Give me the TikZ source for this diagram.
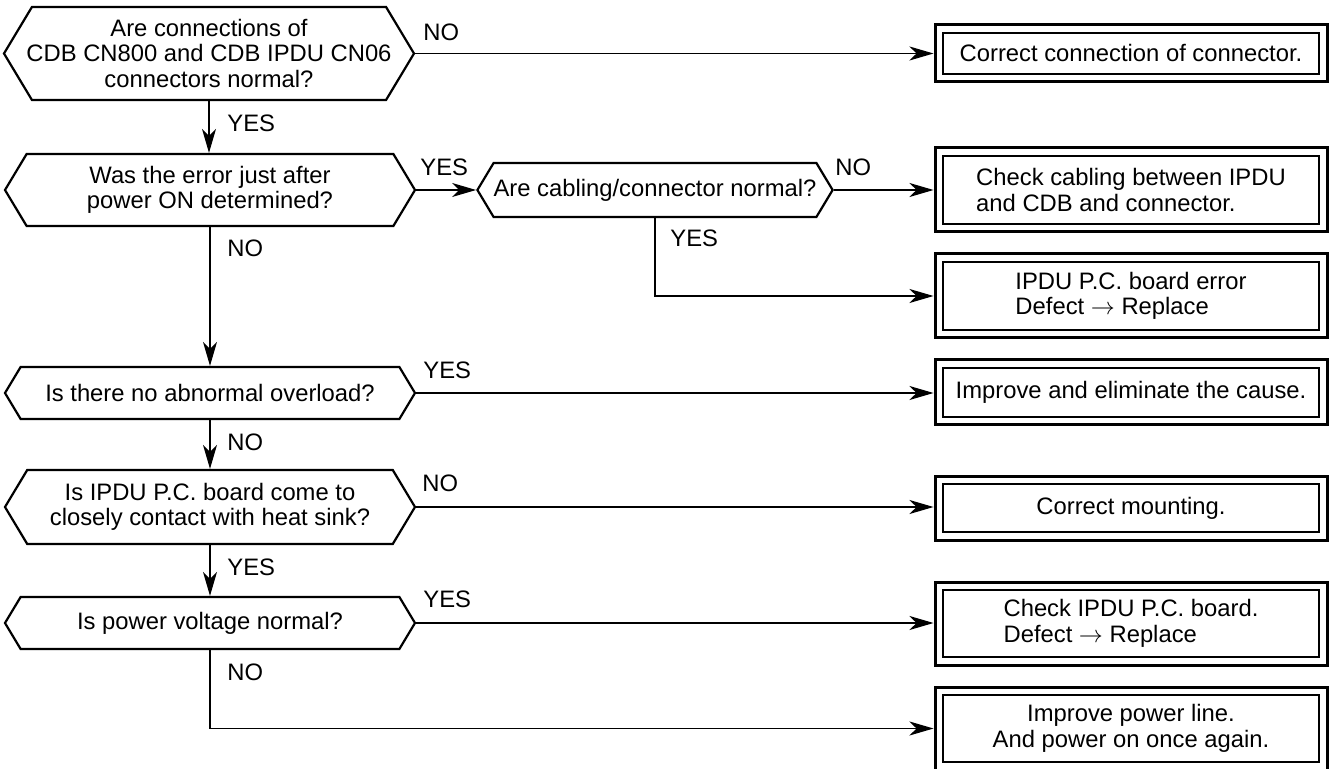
\documentclass[tikz,border=0pt]{standalone}
\usepackage{fontspec}
\setmainfont{Liberation Sans}
\usetikzlibrary{shapes.symbols,arrows.meta}

\tikzset{
	query/.style={draw, line width=1.1pt, shape=signal, signal to=east and west,
		signal pointer angle=118, align=center, inner sep=0pt, minimum width=205pt},
	result/.style={draw, line width=1.5pt, minimum width=196pt, inner sep=0pt,
		path picture={\draw[line width=0.7pt]
			([shift={(4pt,4pt)}]path picture bounding box.south west) rectangle
			([shift={(-4pt,-4pt)}]path picture bounding box.north east);}},
	link/.style={line width=0.7pt, -{Stealth[length=12pt,width=7pt,inset=3.5pt]}},
	answer/.style={anchor=west, inner sep=0pt}
}

\begin{document}
\begin{tikzpicture}[x=0.5pt, y=-0.5pt, font=\fontsize{11.9pt}{12.8pt}\selectfont]
	
	\useasboundingbox (0,0) rectangle (1331,769);
	
	% questions
	\node[query, inner xsep=-8pt, minimum height=46.5pt] (q1) at (209,53.5) {Are connections of\\CDB CN800 and CDB IPDU CN06\\connectors normal?};
	\node[query, minimum height=36pt] (q2) at (210,190) {Was the error just after\\power ON determined?};
	\node[query, minimum width=173pt, minimum height=27pt] (q3) at (655,190) {Are cabling/connector normal?};
	\node[query, minimum height=26pt] (q4) at (210,393) {Is there no abnormal overload?};
	\node[query, minimum height=37pt] (q5) at (210,507) {Is IPDU P.C. board come to\\closely contact with heat sink?};
	\node[query, minimum height=26pt] (q6) at (210,623) {Is power voltage normal?};
	
	% remedies
	\node[result, minimum height=28.5pt] (r1) at (1131,53.5) {Correct connection of connector.};
	\node[result, minimum height=42pt, align=left] (r2) at (1131,190) {Check cabling between IPDU\\and CDB and connector.};
	\node[result, minimum height=42pt, align=left] (r3) at (1131,296) {IPDU P.C. board error\\Defect $\rightarrow$ Replace};
	\node[result, minimum height=32.5pt] (r4) at (1131,392.5) {Improve and eliminate the cause.};
	\node[result, minimum height=32pt] (r5) at (1131,508) {Correct mounting.};
	\node[result, minimum height=41.5pt, align=left] (r6) at (1131,623.5) {Check IPDU P.C. board.\\Defect $\rightarrow$ Replace};
	\node[result, minimum height=41.5pt, align=center] (r7) at (1131,728.5) {Improve power line.\\And power on once again.};
	
	% flow
	\draw[link] (q1.east) -- (q1.east -| r1.west);
	\draw[link] (q1.south) -- (q1.south |- q2.north);
	\draw[link] (q2.east) -- (q3.west);
	\draw[link] (q3.east) -- (r2.west);
	\draw[link] (q3.south) |- (r3.west);
	\draw[link] (q2.south) -- (q4.north);
	\draw[link] (q4.east) -- (q4.east -| r4.west);
	\draw[link] (q4.south) -- (q5.north);
	\draw[link] (q5.east) -- (q5.east -| r5.west);
	\draw[link] (q5.south) -- (q6.north);
	\draw[link] (q6.east) -- (q6.east -| r6.west);
	\draw[link] (q6.south) |- (r7.west);
	
	% answers
	\node[answer] (a1) at (423,32) {NO};
	\node[answer] (a2) at (227,123) {YES};
	\node[answer] (a3) at (420,167) {YES};
	\node[answer] (a4) at (835,167) {NO};
	\node[answer] (a5) at (670,238) {YES};
	\node[answer] (a6) at (227,248) {NO};
	\node[answer] (a7) at (423,370) {YES};
	\node[answer] (a8) at (227,442) {NO};
	\node[answer] (a9) at (422,483) {NO};
	\node[answer] (a10) at (227,567) {YES};
	\node[answer] (a11) at (423,599) {YES};
	\node[answer] (a12) at (227,672) {NO};
	
\end{tikzpicture}
\end{document}
